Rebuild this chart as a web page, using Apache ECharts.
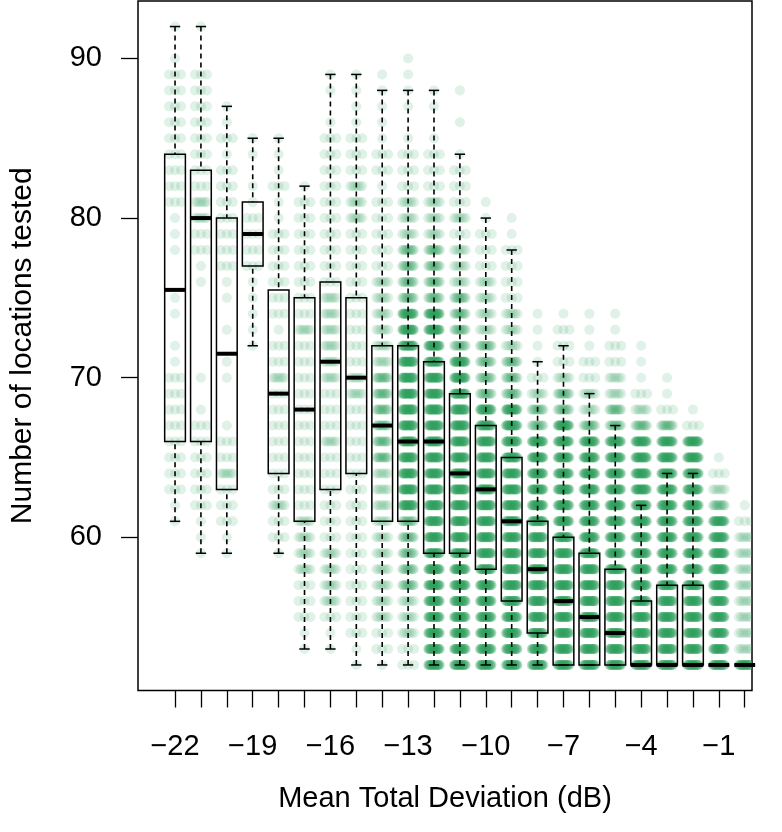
<!DOCTYPE html>
<html><head><meta charset="utf-8">
<script src="https://cdn.jsdelivr.net/npm/echarts@6/dist/echarts.min.js"></script>
<style>html,body{margin:0;padding:0;background:#fff}#c{width:782px;height:832px}</style>
</head><body><div id="c"></div>
<script>
// Categories: Mean Total Deviation (dB)
const categories = [-22,-21,-20,-19,-18,-17,-16,-15,-14,-13,-12,-11,-10,-9,-8,-7,-6,-5,-4,-3,-2,-1,0];
// Box plot statistics (number of locations tested)
const whiskerLow  = [61,59,59,72,59,53,53,52,52,52,52,52,52,52,52,52,52,52,52,52,52,52,52];
const q1          = [66,66,63,77,64,61,63,64,61,61,59,59,58,56,54,52,52,52,52,52,52,52,52];
const median      = [75.5,80,71.5,79,69,68,71,70,67,66,66,64,63,61,58,56,55,54,52,52,52,52,52];
const q3          = [84,83,80,81,75.5,75,76,75,72,72,71,69,67,65,61,60,59,58,56,57,57,52,52];
const whiskerHigh = [92,92,87,85,85,82,89,89,88,88,88,84,80,78,71,72,69,67,62,64,64,52,52];
// Point density levels (0-5) per category for values 52..92 (one digit per integer value)
const densityBaseValue = 52;
const pointDensity = [
  "0000000001"+"1222222221"+"1011001112"+"22222222101",
  "0000000111"+"2222221010"+"0000112233"+"22222222001",
  "0000000112"+"2232210011"+"0101122222"+"22121100000",
  "0000000000"+"0000000000"+"1111122221"+"10110000000",
  "0000000122"+"3222222232"+"2122222211"+"21110000000",
  "0112223333"+"2222222222"+"2322222222"+"10000000000",
  "0112333322"+"2222322233"+"3333222222"+"22221011000",
  "1122222222"+"2222222332"+"2222222233"+"32221111000",
  "1223333333"+"3334444443"+"3333322222"+"12211111000",
  "2233344444"+"5555555555"+"5554444333"+"22210111100",
  "5555555555"+"5555555555"+"5554444333"+"22210110000",
  "5555555555"+"5555555555"+"4444333232"+"22101010000",
  "5555555555"+"5555555444"+"4333322211"+"00000000000",
  "5555555555"+"5555555444"+"3332222110"+"00000000000",
  "5555555555"+"5555544321"+"1110000000"+"00000000000",
  "5555555555"+"5555554432"+"2210000000"+"00000000000",
  "5555555555"+"5555543322"+"1110000000"+"00000000000",
  "5555555555"+"5555544332"+"2110000000"+"00000000000",
  "5555555555"+"5555543211"+"1000000000"+"00000000000",
  "5555555555"+"5555542110"+"0000000000"+"00000000000",
  "5555555555"+"5555521000"+"0000000000"+"00000000000",
  "5555555555"+"4321000000"+"0000000000"+"00000000000",
  "5333333332"+"1000000000"+"0000000000"+"00000000000"
];
const xTickLabels = [-22,-19,-16,-13,-10,-7,-4,-1];
const yTickLabels = [60,70,80,90];

const FONT = 'Liberation Sans, Arial, Helvetica, sans-serif';
const dotsPerLevel = [0,1,3,6,12,30];
const jitterHalf = 0.23;   // in category units
const boxWidth = 0.8;

const cells = [];
categories.forEach((c, i) => {
  const s = pointDensity[i];
  for (let k = 0; k < s.length; k++) {
    const lv = +s[k];
    if (lv > 0) cells.push([c, densityBaseValue + k, lv]);
  }
});
const boxData = categories.map((c, i) => [c, whiskerLow[i], q1[i], median[i], q3[i], whiskerHigh[i]]);

const minus = v => (v < 0 ? '\u2212' + Math.abs(v) : String(v));

const chart = echarts.init(document.getElementById('c'), null, {renderer: 'canvas'});
chart.setOption({
  animation: false,
  backgroundColor: '#fff',
  grid: {left: 137, right: 30, top: 1, bottom: 141.5, show: true, borderColor: '#000', borderWidth: 1.5, backgroundColor: 'transparent'},
  xAxis: {
    type: 'value', min: -23.43, max: 0.28, position: 'bottom',
    axisLine: {show: false, onZero: false}, splitLine: {show: false},
    axisTick: {show: true, customValues: categories, length: 17, lineStyle: {color: '#000', width: 1.3}},
    axisLabel: {customValues: xTickLabels, formatter: minus, fontSize: 29, fontFamily: FONT, color: '#000', margin: 42},
    name: 'Mean Total Deviation (dB)', nameLocation: 'middle', nameGap: 94,
    nameTextStyle: {fontSize: 29, fontFamily: FONT, color: '#000'}
  },
  yAxis: {
    type: 'value', min: 50.4, max: 93.6, position: 'left',
    axisLine: {show: false, onZero: false}, splitLine: {show: false},
    axisTick: {show: true, customValues: yTickLabels, length: 17, lineStyle: {color: '#000', width: 1.3}},
    axisLabel: {customValues: yTickLabels, fontSize: 29, fontFamily: FONT, color: '#000', margin: 36},
    name: 'Number of locations tested', nameLocation: 'middle', nameGap: 100,
    nameTextStyle: {fontSize: 30, fontFamily: FONT, color: '#000'}
  },
  series: [
    {
      type: 'custom', silent: true, data: cells, clip: true,
      encode: {x: 0, y: 1},
      renderItem: function (params, api) {
        const c = api.value(0), v = api.value(1), lv = api.value(2);
        const p = api.coord([c, v]);
        const half = api.size([jitterHalf, 0])[0];
        const n = dotsPerLevel[lv];
        const children = [];
        for (let j = 0; j < n; j++) {
          const off = n === 1 ? 0 : -half + 2 * half * j / (n - 1);
          children.push({type: 'circle', shape: {cx: p[0] + off, cy: p[1], r: 5},
            style: {fill: '#2ca25f', opacity: 0.15}});
        }
        return {type: 'group', children: children};
      }
    },
    {
      type: 'custom', silent: true, data: boxData,
      encode: {x: 0, y: [1, 5]},
      renderItem: function (params, api) {
        const x = api.value(0);
        const pL = api.coord([x, api.value(1)]);
        const p1 = api.coord([x, api.value(2)]);
        const pM = api.coord([x, api.value(3)]);
        const p3 = api.coord([x, api.value(4)]);
        const pH = api.coord([x, api.value(5)]);
        const bw = api.size([boxWidth, 0])[0];
        const cw = bw / 2;
        const ls = {stroke: '#000', lineWidth: 1.5, fill: null};
        const ds = {stroke: '#000', lineWidth: 1.6, lineDash: [5, 4]};
        return {type: 'group', children: [
          {type: 'line', shape: {x1: pH[0], y1: pH[1], x2: p3[0], y2: p3[1]}, style: ds},
          {type: 'line', shape: {x1: pL[0], y1: pL[1], x2: p1[0], y2: p1[1]}, style: ds},
          {type: 'line', shape: {x1: pH[0] - cw / 2, y1: pH[1], x2: pH[0] + cw / 2, y2: pH[1]}, style: ls},
          {type: 'line', shape: {x1: pL[0] - cw / 2, y1: pL[1], x2: pL[0] + cw / 2, y2: pL[1]}, style: ls},
          {type: 'rect', shape: {x: p3[0] - bw / 2, y: p3[1], width: bw, height: p1[1] - p3[1]}, style: ls},
          {type: 'line', shape: {x1: pM[0] - bw / 2, y1: pM[1], x2: pM[0] + bw / 2, y2: pM[1]}, style: {stroke: '#000', lineWidth: 4}}
        ]};
      }
    }
  ]
});
</script>
</body></html>
